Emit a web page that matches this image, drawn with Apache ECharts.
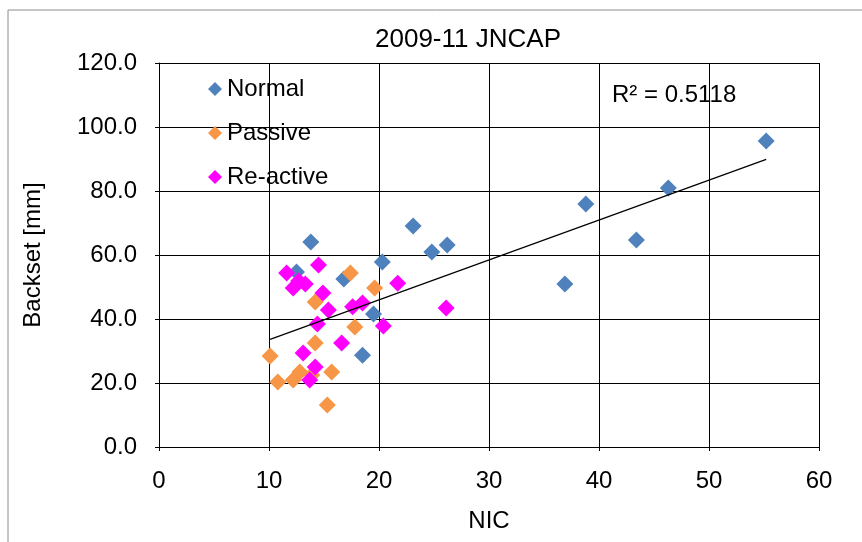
<!DOCTYPE html>
<html>
<head>
<meta charset="utf-8">
<script src="https://cdn.jsdelivr.net/npm/echarts@6/dist/echarts.min.js"></script>
<style>
html,body{margin:0;padding:0;background:#fff;}
#chart{width:862px;height:542px;}
</style>
</head>
<body>
<div id="chart"></div>
<script>
// ---- data ----
const seriesNames = ['Normal', 'Passive', 'Re-active'];
const normalNIC     = [55.2, 46.3, 38.8, 43.4, 36.9, 23.1, 26.2, 24.8, 20.3, 13.8, 18.5, 19.5, 16.8, 12.5];
const normalBackset = [95.6, 80.9, 75.9, 64.7, 50.9, 69.1, 63.1, 60.9, 57.8, 64.1, 28.7, 41.6, 52.5, 54.7];
const passiveNIC     = [10.1, 10.8, 12.2, 12.8, 13.9, 15.7, 15.3, 14.2, 14.2, 17.4, 19.6, 17.8];
const passiveBackset = [28.4, 20.3, 20.9, 23.4, 22.5, 23.4, 13.1, 32.5, 45.3, 54.4, 49.7, 37.5];
const reactiveNIC     = [11.6, 12.7, 12.2, 13.3, 14.5, 14.9, 15.4, 14.4, 17.6, 18.5, 21.7, 20.4, 26.1, 13.1, 14.2, 13.7, 16.6];
const reactiveBackset = [54.4, 51.9, 49.7, 50.9, 56.9, 48.1, 42.8, 38.4, 43.8, 45.0, 51.2, 37.8, 43.4, 29.4, 25.0, 20.9, 32.5];
const xTicks = [0, 10, 20, 30, 40, 50, 60];
const yTicks = [0, 20, 40, 60, 80, 100, 120];
const rSquaredText = 'R\u00B2 = 0.5118';
const titleText = '2009-11 JNCAP';

const colors = ['#4F81BD', '#F79646', '#FF00FF'];

function pairs(xs, ys) { return xs.map((x, i) => [x, ys[i]]); }

// least-squares trend line over all points
const allX = normalNIC.concat(passiveNIC, reactiveNIC);
const allY = normalBackset.concat(passiveBackset, reactiveBackset);
const n = allX.length;
const mx = allX.reduce((a, b) => a + b, 0) / n;
const my = allY.reduce((a, b) => a + b, 0) / n;
let sxy = 0, sxx = 0;
for (let i = 0; i < n; i++) { sxy += (allX[i] - mx) * (allY[i] - my); sxx += (allX[i] - mx) ** 2; }
const slope = sxy / sxx;
const intercept = my - slope * mx;
const xMin = Math.min(...allX), xMax = Math.max(...allX);
const trend = [[xMin, intercept + slope * xMin], [xMax, intercept + slope * xMax]];

const font = '"Liberation Sans", Arial, sans-serif';
const fs = 24;
const chart = echarts.init(document.getElementById('chart'), null, { renderer: 'canvas' });

const symbolSize = 17;
chart.setOption({
  animation: false,
  backgroundColor: '#fff',
  textStyle: { fontFamily: font },
  title: {
    text: titleText, left: 463, top: 22, textAlign: 'center',
    textStyle: { fontFamily: font, fontSize: 26, fontWeight: 'normal', color: '#000' }
  },
  graphic: [
    { type: 'rect', shape: { x: 8, y: 10, width: 900, height: 600 }, style: { fill: 'none', stroke: '#8c8c8c', lineWidth: 1 }, silent: true, z: -1 },
    { type: 'text', left: 612, top: 83, style: { text: rSquaredText, fontFamily: font, fontSize: fs, fill: '#000' } }
  ],
  legend: {
    data: seriesNames,
    orient: 'vertical', left: 203, top: 72,
    itemWidth: 14, itemHeight: 14, itemGap: 20,
    icon: 'diamond',
    textStyle: { fontFamily: font, fontSize: fs, color: '#000', lineHeight: 24 }
  },
  grid: { left: 159, right: 43, top: 63, bottom: 95 },
  xAxis: {
    type: 'value', min: xTicks[0], max: xTicks[xTicks.length - 1], interval: 10,
    name: 'NIC', nameLocation: 'middle', nameGap: 62,
    nameTextStyle: { fontFamily: font, fontSize: fs, color: '#000' },
    axisLine: { show: true, lineStyle: { color: '#000', width: 1 } },
    axisTick: { show: true, length: 4, lineStyle: { color: '#000' } },
    axisLabel: { fontFamily: font, fontSize: fs, color: '#000', margin: 22 },
    splitLine: { show: true, lineStyle: { color: '#000', width: 1 } }
  },
  yAxis: {
    type: 'value', min: yTicks[0], max: yTicks[yTicks.length - 1], interval: 20,
    name: 'Backset [mm]', nameLocation: 'middle', nameGap: 114, nameRotate: 90,
    nameTextStyle: { fontFamily: font, fontSize: fs, color: '#000' },
    axisLine: { show: true, lineStyle: { color: '#000', width: 1 } },
    axisTick: { show: true, length: 4, lineStyle: { color: '#000' } },
    axisLabel: { fontFamily: font, fontSize: fs, color: '#000', margin: 22, formatter: v => v.toFixed(1) },
    splitLine: { show: true, lineStyle: { color: '#000', width: 1 } }
  },
  series: [
    { name: seriesNames[0], type: 'scatter', symbol: 'diamond', symbolSize: symbolSize, itemStyle: { color: colors[0], opacity: 1 }, data: pairs(normalNIC, normalBackset), z: 3 },
    { name: seriesNames[1], type: 'scatter', symbol: 'diamond', symbolSize: symbolSize, itemStyle: { color: colors[1], opacity: 1 }, data: pairs(passiveNIC, passiveBackset), z: 3 },
    { name: seriesNames[2], type: 'scatter', symbol: 'diamond', symbolSize: symbolSize, itemStyle: { color: colors[2], opacity: 1 }, data: pairs(reactiveNIC, reactiveBackset), z: 3 },
    { name: 'trend', type: 'line', data: trend, symbol: 'none', silent: true, lineStyle: { color: '#000', width: 1.2 }, z: 4 }
  ]
});
</script>
</body>
</html>
